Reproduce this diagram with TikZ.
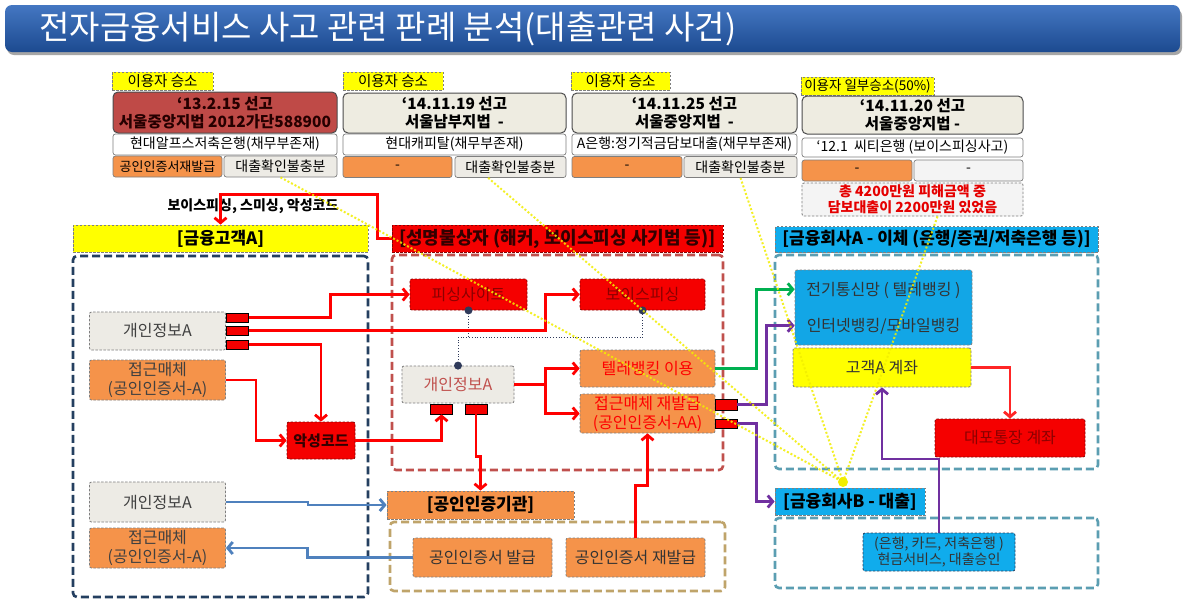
\documentclass[tikz,border=0pt]{standalone}
\usepackage{fontspec}
\setmainfont{Noto Sans CJK KR}
\usetikzlibrary{arrows.meta,calc}
\definecolor{cTitleA}{HTML}{4477C2}
\definecolor{cTitleB}{HTML}{1C4A90}
\definecolor{cYel}{HTML}{FFFF00}
\definecolor{cCard}{HTML}{BF4A47}
\definecolor{cBeige}{HTML}{EEECE1}
\definecolor{cOr}{HTML}{F5934A}
\definecolor{cGray}{HTML}{EDEBE5}
\definecolor{cLG}{HTML}{F4F4F4}
\definecolor{cRed}{HTML}{F50000}
\definecolor{cRedT}{HTML}{8B0000}
\definecolor{cBlueBox}{HTML}{12A6E6}
\definecolor{cCyan}{HTML}{10ACEC}
\definecolor{cNavy}{HTML}{243F60}
\definecolor{cMid}{HTML}{C0504D}
\definecolor{cTeal}{HTML}{5B9EB2}
\definecolor{cTan}{HTML}{BFA46A}
\definecolor{cPurple}{HTML}{7030A0}
\definecolor{cGreen}{HTML}{00B050}
\definecolor{cSteel}{HTML}{4F81BD}
\definecolor{cDot}{HTML}{2F3A5A}
\definecolor{cLine}{HTML}{7F7F7F}
\definecolor{cYL}{HTML}{F2EE00}
\newcommand\fsz[2]{\fontsize{#1}{#2}\selectfont}
\tikzset{
  sz/.style 2 args={minimum width=#1pt, minimum height=#2pt},
  bx/.style={draw=cLine, line width=0.8pt, dash pattern=on 2.5pt off 1.5pt, rounded corners=2pt, align=center, inner sep=1pt, font=\fsz{16}{19}},
  row/.style={draw=cLine, line width=0.7pt, rounded corners=2.5pt, align=center, inner sep=1pt, font=\fsz{14}{16}},
  top/.style={draw=black!70, line width=1pt, rounded corners=5pt, align=center, inner sep=1pt, font=\bfseries\fsz{15.5}{18}},
  lab/.style={draw=cLine, fill=cYel, line width=0.8pt, dash pattern=on 2.5pt off 1.5pt, inner sep=1pt, font=\fsz{14.5}{16}},
  hdr/.style={draw=cLine, line width=0.8pt, dash pattern=on 2.5pt off 1.5pt, inner sep=1pt, font=\bfseries\fsz{17}{19}},
  cont/.style={line width=2.6pt, dash pattern=on 8pt off 4pt, rounded corners=4pt, inner sep=0pt},
  sq/.style={draw=black, line width=0.7pt, fill=cRed, minimum width=22pt, minimum height=9pt, inner sep=0pt},
  arr/.style={line width=2.8pt, -{Straight Barb[length=5pt,width=12pt]}},
  dotl/.style={line width=0.8pt, dotted, cDot},
  yl/.style={line width=2pt, cYL, dash pattern=on 2pt off 2pt, opacity=0.85},
}
\begin{document}
\begin{tikzpicture}[x=1pt,y=-1pt]
\useasboundingbox (0,0) rectangle (1183,600);
\fill[white] (0,0) rectangle (1183,600);
% title
\fill[black!35, rounded corners=7pt] (7,9) rectangle (1182,55);
\node[rounded corners=7pt, top color=cTitleA, bottom color=cTitleB, minimum width=1175pt, minimum height=47pt, inner sep=0pt] (tbar) at (592.5,28.5) {};
\node[anchor=west, text=white, font=\fsz{33}{38}] (title) at (36,29) {전자금융서비스 사고 관련 판례 분석(대출관련 사건)};

% containers
\node[cont, draw=cNavy, sz={295}{341}] (cA) at (220.5,426.5) {};
\node[cont, draw=cMid, sz={331}{215}] (cM) at (557.5,362.5) {};
\node[cont, draw=cTan, sz={335}{69}] (cC) at (557.5,556.5) {};
\node[cont, draw=cTeal, sz={323}{214}] (cR) at (936.5,362) {};
\node[cont, draw=cTeal, sz={323}{70}] (cB) at (936.5,553) {};

% card 1
\node[lab, sz={101}{18}] (lab1) at (162.5,81) {이용자 승소};
\node[top, fill=cCard, text=black!85!red, sz={224}{41}] (d1) at (225,112.5) {`13.2.15 선고\\서울중앙지법 2012가단588900};
\node[row, fill=white, sz={224}{21}] (w1) at (225,144.5) {현대알프스저축은행(채무부존재)};
\node[row, fill=cOr, sz={109}{21}, font=\fsz{13}{15}] (o1) at (167.5,166.5) {공인인증서재발급};
\node[row, fill=cGray, sz={113}{21}] (g1) at (280.5,166.5) {대출확인불충분};
% card 2
\node[lab, sz={100}{18}] (lab2) at (393,81) {이용자 승소};
\node[top, fill=cBeige, sz={223}{40}] (d2) at (454.5,113) {`14.11.19 선고\\서울남부지법\ \ -};
\node[row, fill=white, sz={223}{21}] (w2) at (454.5,144.5) {현대캐피탈(채무부존재)};
\node[row, fill=cOr, sz={109}{21}] (o2) at (397.5,167) {-};
\node[row, fill=cGray, sz={111}{21}] (g2) at (510.5,167) {대출확인불충분};
% card 3
\node[lab, sz={99}{18}] (lab3) at (620.5,81) {이용자 승소};
\node[top, fill=cBeige, sz={225}{40}] (d3) at (684.5,113) {`14.11.25 선고\\서울중앙지법\ \ -};
\node[row, fill=white, sz={225}{21}] (w3) at (684.5,144.5) {A은행:정기적금담보대출(채무부존재)};
\node[row, fill=cOr, sz={110}{21}] (o3) at (627,167) {-};
\node[row, fill=cGray, sz={113}{21}] (g3) at (740.5,167) {대출확인불충분};
% card 4
\node[lab, sz={133}{18}, font=\fsz{13.5}{15}] (lab4) at (867.5,86) {이용자 일부승소(50\%)};
\node[top, fill=cBeige, sz={221}{38}] (d4) at (912.5,115) {`14.11.20 선고\\서울중앙지법 -};
\node[row, fill=white, sz={221}{19}] (w4) at (912.5,147.5) {`12.1\ \ 씨티은행 (보이스피싱사고)};
\node[row, fill=cOr, sz={110}{21}] (o4) at (857,170.5) {-};
\node[row, fill=cLG, sz={109}{21}] (g4) at (968.5,170.5) {-};
\node[bx, fill=cLG, sz={221}{33}, text=red!90!black, font=\bfseries\fsz{14}{16}] (n4) at (912.5,199.5) {총 4200만원 피해금액 중\\담보대출이 2200만원 있었음};

\node[font=\bfseries\fsz{14}{16}] (lbl) at (253,206) {보이스피싱, 스미싱, 악성코드};

% left group
\node[hdr, fill=cYel, sz={295}{27}] (hA) at (220.5,238.5) {[금융고객A]};
\node[bx, fill=cGray, text=black!75, sz={136}{38}] (pA1) at (157.5,331) {개인정보A};
\node[sq] (sq1) at (237.5,317.5) {};
\node[sq] (sq2) at (237.5,330.5) {};
\node[sq] (sq3) at (237.5,344.5) {};
\node[bx, fill=cOr, text=black!75, sz={136}{40}] (mA1) at (157.5,380) {접근매체\\(공인인증서-A)};
\node[bx, draw=cRedT, fill=cRed, text=black!80!red, sz={68}{37}, font=\bfseries\fsz{15}{17}] (mal) at (321,440.5) {악성코드};
\node[bx, fill=cGray, text=black!75, sz={136}{40}] (pA2) at (157.5,502) {개인정보A};
\node[bx, fill=cOr, text=black!75, sz={136}{40}] (mA2) at (157.5,548) {접근매체\\(공인인증서-A)};

% middle group
\node[hdr, draw=cRedT, fill=cRed, text=black!80!red, sz={331}{27}, font=\bfseries\fsz{18}{20}] (hM) at (557.5,238.5) {[성명불상자 (해커, 보이스피싱 사기범 등)]};
\node[bx, draw=cRedT, fill=cRed, text=cRedT, sz={117}{31}] (phish) at (468.5,294.5) {피싱사이트};
\node[bx, draw=cRedT, fill=cRed, text=cRedT, sz={125}{31}] (voice) at (642.5,294.5) {보이스피싱};
\node[bx, fill=cGray, text=cMid, sz={112}{37}] (pM) at (458,384.5) {개인정보A};
\node[sq, minimum height=10pt] (sqM1) at (441.5,409) {};
\node[sq, minimum height=10pt] (sqM2) at (476,409) {};
\node[bx, fill=cOr, text=red, sz={135}{37}] (tele) at (647.5,368.5) {텔레뱅킹 이용};
\node[bx, fill=cOr, text=red, sz={135}{39}] (reiss) at (647.5,413.5) {접근매체 재발급\\(공인인증서-AA)};
\node[sq, minimum height=11pt] (sqR1) at (726,404.5) {};
\node[sq] (sqR2) at (726,423.5) {};
\node[hdr, fill=cOr, sz={187}{28}] (cert) at (480.5,505) {[공인인증기관]};
\node[bx, fill=cOr, text=black!80, sz={139}{39}] (issue) at (482.5,557.5) {공인인증서 발급};
\node[bx, fill=cOr, text=black!80, sz={139}{39}] (reissue) at (635.5,557.5) {공인인증서 재발급};

% right group
\node[hdr, fill=cCyan, sz={323}{26}, font=\bfseries\fsz{17}{19}] (hR) at (936.5,239.5) {[금융회사A - 이체 (은행/증권/저축은행 등)]};
\node[bx, fill=cBlueBox, sz={177}{75}, text=black!80] (blue) at (883.5,307.5) {};
\node[text=black!80, font=\fsz{16}{19}] (blueT1) at (883.5,290) {전기통신망 ( 텔레뱅킹 )};
\node[text=black!80, font=\fsz{16}{19}] (blueT2) at (883.5,326) {인터넷뱅킹/모바일뱅킹};
\node[bx, fill=cYel, text=black!80, sz={178}{39}] (acct) at (882,367.5) {고객A 계좌};
\node[bx, draw=cRedT, fill=cRed, text=cRedT, sz={150}{38}] (fake) at (1010,438) {대포통장 계좌};
\node[hdr, fill=cCyan, sz={150}{27}] (hB) at (850,501.5) {[금융회사B - 대출]};

\coordinate (bin1) at ($(blue.north west)!0.26!(blue.south west)$);
\coordinate (bin2) at ($(blue.north west)!0.74!(blue.south west)$);
\coordinate (ltop) at (939,533);

% dotted link
\draw[dotl] (pM.north) |- ($(voice.south)+(0,27)$) -- (voice.south);
\draw[dotl] (phish.south) -- ($(phish.south)+(0,27)$);
\fill[cDot] (phish.south) circle (4);
\fill[cDot] (voice.south) circle (4);
\fill[cDot] (pM.north) circle (4);

% red connectors
\draw[arr, red] (hM.west) -- ++(-14,0) |- ($(hA.north)+(0,-30)$) -- (hA.north);
\draw[arr, red] (sq1.east) -- ++(82,0) |- (phish.west);
\draw[arr, red] (sq2.east) -- ++(297,0) |- (voice.west);
\draw[arr, red] (sq3.east) -| (mal.north);
\draw[arr, red] (mA1.east) -- ++(30,0) |- (mal.west);
\draw[arr, red] (mal.east) -| (sqM1.south);
\draw[arr, red] (pM.east) -- ++(31,0) |- (tele.west);
\draw[arr, red] (pM.east) -- ++(31,0) |- (reiss.west);
\draw[arr, red] (sqM2.south) -- ++(0,42) -| (cert.north);
\draw[arr, red] (reissue.north) -- ++(0,-52) -| (reiss.south);
\draw[arr, red!85!white] (acct.east) -| (fake.north);
% green
\draw[arr, cGreen] (tele.east) -- ++(41,0) |- (bin1);
% purple
\draw[arr, cPurple] (sqR1.east) -- ++(29,0) |- (bin2);
\draw[arr, cPurple] (sqR2.east) -- ++(19,0) |- (hB.west);
\draw[arr, cPurple] (ltop) -- ++(0,-74) -| (acct.south);
% blue
\draw[arr, cSteel] (pA2.east) -- ++(82,0) |- (cert.west);
\draw[arr, cSteel] (issue.west) -- ++(-105,0) |- (mA2.east);

% loan box drawn over the purple line start
\node[bx, draw=cNavy, fill=cCyan, text=black!80, sz={152}{38}, font=\fsz{14}{16.5}] (loan) at (939,552) {(은행, 카드, 저축은행 )\\현금서비스, 대출승인};

% yellow dotted lines
\coordinate (conv) at (843,482);
\draw[yl] (g1.south) -- (conv);
\draw[yl] ($(g2.south west)!0.3!(g2.south east)$) -- (conv);
\draw[yl] (g3.south) -- (conv);
\draw[yl] ($(n4.south)+(25,0)$) -- (conv);
\fill[cYL] (conv) circle (5);
\end{tikzpicture}
\end{document}
